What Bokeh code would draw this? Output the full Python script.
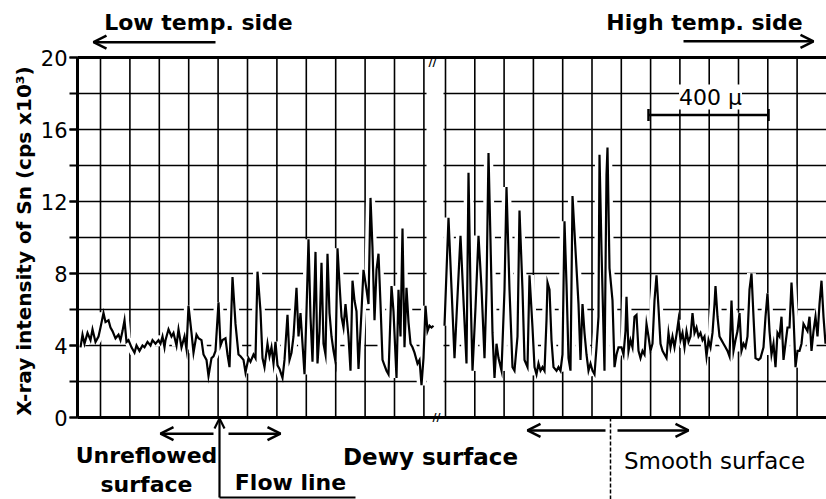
from bokeh.plotting import figure
from bokeh.models import Range1d, SingleIntervalTicker, Label, Arrow, OpenHead, TeeHead, LinearAxis
from bokeh.embed import file_html
from bokeh.resources import INLINE

# Scan position (reference chart units, ~3.4 um each) and Sn X-ray intensity (cps x10^3)
pos_low = [3, 5, 7, 10, 13, 15, 18, 21, 23, 26, 28, 31, 33, 35, 38, 41, 43, 45, 47, 49, 51, 54, 57, 59, 62, 65, 67, 70, 73, 75, 78, 81, 83, 85, 87,
           88, 91, 94, 96, 99, 101, 104, 107, 109, 111, 114, 116, 119, 121, 124, 126, 129, 131, 134, 136, 138, 141, 143, 145, 148, 150, 152, 155, 158, 161, 163, 166, 168, 171, 173, 176, 178, 180,
           183, 185, 187, 190, 192, 194, 196, 198, 200, 202, 205, 207, 210, 212, 214, 216, 219, 221, 223, 225, 227, 229, 231, 233, 235, 238, 240, 242, 244, 246, 248, 250, 252, 254, 256, 258, 260, 262, 264, 266, 268,
           271, 273, 275, 277, 279, 281, 284, 286, 289, 291, 293, 295, 297, 299, 301, 303, 305, 307, 309, 311, 314, 316, 319, 321, 323, 325, 327, 329, 331, 333, 335, 337, 340, 342, 344, 346, 348, 350, 352, 354, 356]
int_low = [3.9, 4.6, 4.1, 4.7, 4.3, 4.9, 4.2, 4.5, 5.0, 5.8, 5.3, 5.4, 5.0, 4.8, 4.4, 4.6, 4.3, 4.8, 5.4, 4.2, 4.3, 3.9, 3.6, 4.0, 3.7, 4.0, 3.9, 4.2, 4.0, 4.3, 4.1, 4.3, 4.1, 4.5, 3.9,
           4.3, 4.9, 4.5, 4.7, 4.0, 4.9, 3.9, 4.5, 3.8, 6.2, 4.7, 3.6, 4.6, 4.4, 4.3, 3.5, 3.2, 2.3, 3.3, 3.4, 3.7, 6.4, 4.0, 4.3, 4.4, 3.5, 2.8, 7.8, 5.2, 3.5, 3.4, 3.2, 2.5, 3.3, 3.1, 3.5, 3.3, 8.1,
           5.9, 3.3, 2.8, 4.1, 3.4, 3.9, 3.0, 4.2, 2.9, 2.7, 2.2, 3.2, 5.7, 3.2, 3.6, 4.5, 7.2, 4.5, 5.8, 4.1, 2.4, 5.9, 9.9, 5.6, 3.1, 9.2, 3.0, 4.8, 8.6, 4.1, 3.5, 9.1, 5.8, 4.5, 3.7, 3.1, 9.4, 7.4, 5.6, 5.0, 6.3,
           4.5, 2.6, 7.6, 6.5, 5.9, 2.7, 5.9, 8.2, 7.1, 6.3, 12.2, 9.4, 5.4, 8.2, 9.1, 6.3, 3.2, 2.9, 2.6, 2.4, 7.3, 5.9, 2.2, 7.1, 4.5, 10.5, 3.9, 7.2, 5.3, 4.1, 3.9, 3.6, 3.0, 3.2, 1.8, 3.3, 6.2, 4.8, 5.1, 5.0, 5.1]

pos_high = [367, 371, 374, 377, 379, 383, 386, 389, 391, 393, 395, 398, 401, 404, 407, 409, 411, 413, 415, 417, 419, 421, 424, 427, 429, 432, 435, 437, 440, 442, 445, 447, 450,
            452, 455, 457, 459, 461, 463, 465, 467, 469, 470, 472, 474, 476, 479, 481, 483, 485, 487, 489, 491, 493, 495, 498, 501, 503, 505, 507, 509, 511, 513, 515, 517, 519, 521, 522, 524, 527, 529, 530, 532, 535, 537, 539, 541,
            544, 546, 548, 549, 551, 553, 555, 557, 559, 561, 563, 565, 567, 569, 571, 573, 575, 577, 579, 581, 583, 585, 587, 589, 591, 593, 595, 597, 599, 601, 603, 605, 607, 609, 611, 613, 615, 617, 619, 621, 623, 625, 627, 629, 631, 633, 635, 637, 638, 640,
            642, 644, 646, 648, 650, 652, 654, 656, 658, 660, 662, 664, 666, 668, 670, 672, 674, 676, 678, 681, 683, 686, 688, 690, 692, 694, 696, 698, 700, 702, 704, 706, 708, 710, 712, 714, 716, 718, 720, 722, 724, 726, 728, 730, 732, 734, 736, 738, 740, 742, 744, 746, 748]
int_high = [5.1, 11.1, 7.2, 3.3, 5.6, 10.1, 6.5, 3.0, 13.6, 7.1, 2.6, 6.1, 10.1, 7.2, 3.3, 7.1, 14.7, 9.8, 4.7, 2.2, 4.1, 3.3, 2.6, 7.1, 12.8, 7.1, 2.8, 2.6, 4.5, 11.5, 7.1, 3.2, 2.8,
            7.9, 5.0, 2.8, 2.4, 3.0, 2.6, 2.8, 2.6, 5.4, 7.5, 7.1, 4.3, 2.8, 2.6, 2.8, 2.6, 3.5, 10.9, 7.4, 3.3, 2.6, 12.3, 9.3, 6.3, 3.2, 6.3, 4.7, 3.5, 2.6, 3.0, 2.6, 2.4, 3.9, 5.6, 14.6, 9.3, 2.6, 13.5, 15.0, 8.3, 6.5, 2.8, 3.5, 3.9,
            3.9, 3.5, 4.8, 6.7, 3.7, 4.3, 3.9, 5.6, 5.7, 3.7, 3.3, 3.7, 3.5, 5.2, 4.5, 3.7, 4.1, 6.5, 7.9, 6.1, 4.1, 3.7, 3.5, 3.3, 4.7, 3.9, 4.5, 3.9, 4.6, 5.4, 4.3, 4.7, 3.9, 4.8, 4.2, 4.5, 5.8, 4.7, 5.0, 4.5, 4.7, 4.3, 4.5, 3.4, 4.3, 3.9, 4.7, 6.3, 7.3, 5.6,
            4.5, 4.3, 4.1, 3.9, 3.7, 3.4, 6.5, 3.7, 4.3, 4.8, 5.8, 3.7, 4.1, 3.9, 4.5, 7.1, 8.0, 5.6, 3.3, 3.2, 3.3, 3.9, 5.6, 6.9, 4.8, 3.5, 4.1, 2.8, 4.7, 4.5, 5.6, 3.2, 4.1, 5.0, 5.0, 7.5, 5.6, 2.8, 3.7, 3.7, 4.1, 5.2, 5.0, 4.8, 5.6, 3.7, 4.8, 5.6, 4.5, 6.3, 7.6, 5.6, 4.1]

y_label = "X-ray intensity of Sn  (cps x10\u00b3)"

BOLD = "DejaVu Sans"
W, H = 826, 499
FL, FT, FB = 77, 57, 82          # frame margins of the original chart (px)
XMAX, YMAX = 749, 20
ppu_y = (H - FT - FB) / YMAX     # pixels per intensity unit

p = figure(width=W, height=H,
           x_range=Range1d(-FL, XMAX), y_range=Range1d(-FB / ppu_y, YMAX + FT / ppu_y),
           output_backend="svg", toolbar_location=None,
           min_border_left=0, min_border_right=0, min_border_top=0, min_border_bottom=0,
           x_axis_location=None, y_axis_location=None)
p.xgrid.visible = False
p.ygrid.visible = False
p.outline_line_color = None
p.background_fill_color = "white"
p.border_fill_color = "white"

ax = LinearAxis(fixed_location=0, bounds=(0, YMAX))
ax.ticker = SingleIntervalTicker(interval=4, num_minor_ticks=2)
ax.axis_line_width = 3
ax.major_tick_in = 0
ax.major_tick_out = 8
ax.minor_tick_in = 0
ax.minor_tick_out = 8
ax.major_tick_line_width = 2
ax.minor_tick_line_width = 2
ax.major_label_text_font = "DejaVu Sans"
ax.major_label_text_font_size = "21px"
ax.major_label_text_color = "black"
ax.major_label_standoff = 2
ax.axis_label = y_label
ax.axis_label_text_font = BOLD
ax.axis_label_text_font_style = "bold"
ax.axis_label_text_font_size = "20px"
ax.axis_label_text_color = "black"
ax.axis_label_standoff = 2
p.add_layout(ax, "left")

# chart paper grid, broken at the axis break
gl_left = [23 + 29.4 * k for k in range(12)]
gl_right = [368 + 29.3 * k for k in range(13)]
hx0, hx1, hy = [], [], []
for v in range(2, 20, 2):
    hx0 += [0, 366]
    hx1 += [349, XMAX]
    hy += [v, v]
p.segment(x0=hx0, y0=hy, x1=hx1, y1=hy, line_color="black", line_width=1.6)
vx = gl_left + gl_right
p.segment(x0=vx, y0=[0] * len(vx), x1=vx, y1=[YMAX] * len(vx), line_color="black", line_width=1.6)

# trace with white halo (paper grid is interrupted around the pen trace)
for xs, ys in ((pos_low, int_low), (pos_high, int_high)):
    p.line(xs, ys, line_color="white", line_width=9)
for xs, ys in ((pos_low, int_low), (pos_high, int_high)):
    p.line(xs, ys, line_color="black", line_width=2.2, line_join="miter")

# frame top and bottom lines
p.segment(x0=[0, 0], y0=[0, YMAX], x1=[XMAX, XMAX], y1=[0, YMAX], line_color="black", line_width=3)

def lab(x, y, t, size="22px", style="bold", font=BOLD, bg=None):
    p.add_layout(Label(x=x, y=y, text=t, text_align="center", text_baseline="middle",
                       text_font=font, text_font_size=size, text_font_style=style,
                       text_color="black", background_fill_color=bg))

def arrow(x0, y0, x1, y1, head=True, dash="solid", w=2.5):
    p.add_layout(Arrow(x_start=x0, y_start=y0, x_end=x1, y_end=y1,
                       end=OpenHead(size=13, line_width=w) if head else None,
                       line_width=w, line_dash=dash, line_color="black"))

lab(121, 21.94, "Low temp. side")
arrow(138, 20.85, 16, 20.85)
lab(627, 21.94, "High temp. side")
arrow(606, 20.9, 736, 20.9)

lab(633, 17.8, "400 \u03bc", size="22px", style="normal", bg="white")
p.add_layout(Arrow(x_start=571, y_start=16.8, x_end=691, y_end=16.8, line_width=2.5,
                   start=TeeHead(size=12, line_width=2.5), end=TeeHead(size=12, line_width=2.5)))

lab(355, 19.75, "//", size="11px")
lab(359, 0.0, "//", size="11px")

arrow(136, -0.9, 83, -0.9)
arrow(151, -0.9, 203, -0.9)
lab(69, -2.1, "Unreflowed")
lab(69, -3.72, "surface")
lab(353, -2.2, "Dewy surface", size="23px")
lab(637, -2.4, "Smooth surface", size="23px", style="normal")
lab(213, -3.62, "Flow line")
p.add_layout(Arrow(x_start=142, y_start=-4.45, x_end=142, y_end=-0.05, line_width=2.2,
                   end=OpenHead(size=10, line_width=2.2)))
arrow(142, -4.45, 278, -4.45, head=False, w=2)
arrow(533, 0, 533, -4.6, head=False, dash="4 2", w=1.5)
arrow(528, -0.72, 450, -0.72)
arrow(540, -0.72, 611, -0.72)

open("out.html", "w").write(file_html(p, INLINE))
